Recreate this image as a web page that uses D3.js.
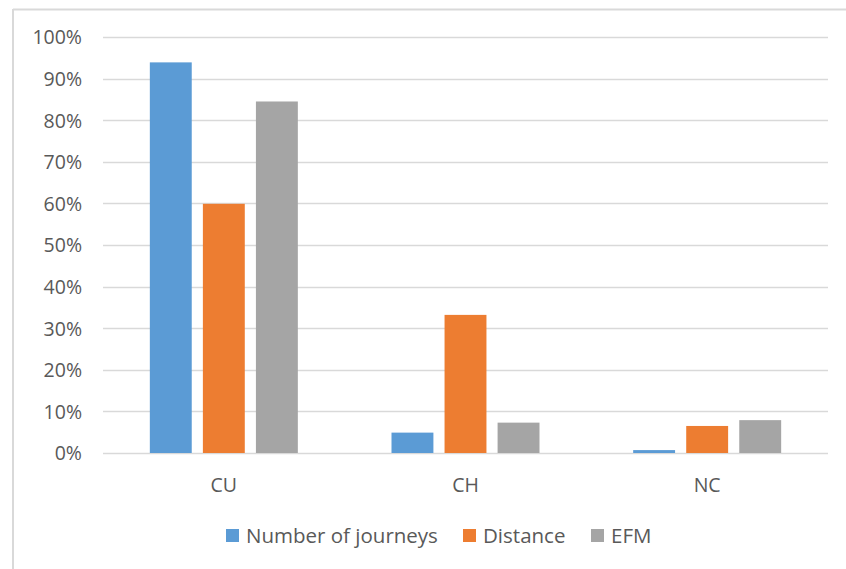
<!DOCTYPE html>
<html>
  <head>
    <meta charset="utf-8">
    <title>Share by category</title>
    <style type="text/css">
      body { margin: 0; background: #fff; }
      svg text { font-family: "Open Sans", sans-serif; fill: #595959; }
    </style>
  </head>
  <body>
    <div id="chart"></div>
    <script src="https://d3js.org/d3.v7.min.js"></script>
    <script>

    // data
    var categories = ["CU", "CH", "NC"];
    var series = ["Number of journeys", "Distance", "EFM"];
    var colors = ["#5b9bd5", "#ed7d31", "#a5a5a5"];
    var journeys = [0.939, 0.049, 0.007];
    var distance = [0.599, 0.332, 0.065];
    var efm = [0.845, 0.073, 0.079];
    var yTicks = [0, 0.1, 0.2, 0.3, 0.4, 0.5, 0.6, 0.7, 0.8, 0.9, 1];

    var values = [journeys, distance, efm];

    var width = 846,
        height = 569;

    var svg = d3.select("#chart")
      .append("svg")
      .attr("width", width)
      .attr("height", height);

    // chart frame (only top and left edges show)
    svg.append("line")
      .attr("x1", 13).attr("x2", width).attr("y1", 9.5).attr("y2", 9.5)
      .style("stroke", "#d9d9d9").style("stroke-width", 2);
    svg.append("line")
      .attr("x1", 13).attr("x2", 13).attr("y1", 9).attr("y2", height)
      .style("stroke", "#d9d9d9").style("stroke-width", 2);

    var plotLeft = 103, plotRight = 828, plotTop = 37, plotBottom = 453;

    var y = d3.scaleLinear().domain([0, 1]).range([plotBottom, plotTop]);

    var x0 = d3.scaleBand().domain(categories).range([plotLeft, plotRight]).padding(0);

    var groupW = 148;
    var x1 = d3.scaleBand().domain(series)
      .range([(x0.bandwidth() - groupW) / 2, (x0.bandwidth() + groupW) / 2])
      .paddingInner(0.21).paddingOuter(0);

    // gridlines
    svg.append("g").selectAll("line")
      .data(yTicks)
      .enter().append("line")
      .attr("x1", plotLeft).attr("x2", plotRight)
      .attr("y1", function(d) { return Math.round(y(d)) + 0.5; })
      .attr("y2", function(d) { return Math.round(y(d)) + 0.5; })
      .style("stroke", "#d9d9d9").style("stroke-width", 1.5);

    // y axis labels
    var yAxis = d3.axisLeft(y).tickValues(yTicks).tickFormat(d3.format(".0%")).tickSize(0).tickPadding(0);
    var ya = svg.append("g").attr("transform", "translate(82,0)").call(yAxis);
    ya.select(".domain").remove();
    ya.selectAll("text").style("font-size", "19.5px").attr("dy", "0.35em");

    // bars
    var groups = svg.append("g").selectAll("g")
      .data(categories)
      .enter().append("g")
      .attr("transform", function(d) { return "translate(" + x0(d) + ",0)"; });

    groups.selectAll("rect")
      .data(function(c, ci) {
        return series.map(function(s, si) { return {series: s, idx: si, value: values[si][ci]}; });
      })
      .enter().append("rect")
      .attr("x", function(d) { return x1(d.series); })
      .attr("width", x1.bandwidth())
      .attr("y", function(d) { return y(d.value); })
      .attr("height", function(d) { return y(0) - y(d.value); })
      .style("fill", function(d) { return colors[d.idx]; });

    // category labels
    var xAxis = d3.axisBottom(x0).tickSize(0).tickPadding(0);
    var xa = svg.append("g").attr("transform", "translate(0,492)").call(xAxis);
    xa.select(".domain").remove();
    xa.selectAll("text").style("font-size", "19.5px").attr("dy", "0");

    // legend
    var legendX = [226, 463, 591];
    var legend = svg.append("g").selectAll("g")
      .data(series)
      .enter().append("g")
      .attr("transform", function(d, i) { return "translate(" + legendX[i] + ",529)"; });

    legend.append("rect")
      .attr("width", 13).attr("height", 13)
      .style("fill", function(d, i) { return colors[i]; });

    legend.append("text")
      .attr("x", 20).attr("y", 14)
      .style("font-size", "20.5px")
      .text(function(d) { return d; });

    </script>
  </body>
</html>
